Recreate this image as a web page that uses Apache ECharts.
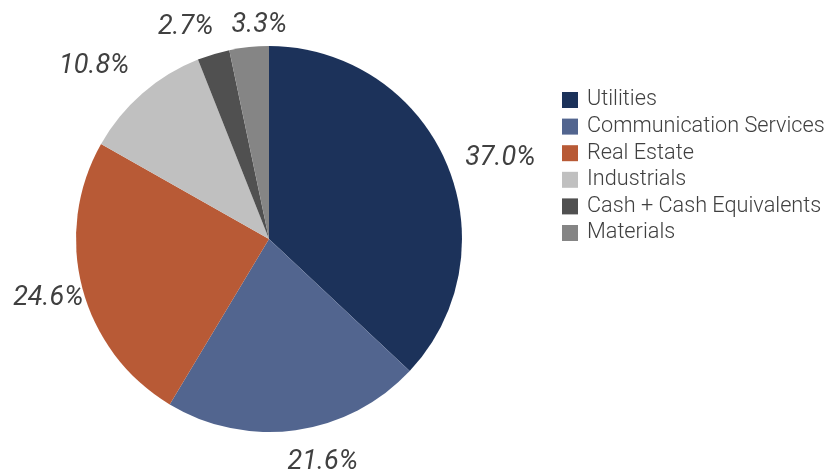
<!DOCTYPE html>
<html>
<head>
<meta charset="utf-8">
<script src="https://cdn.jsdelivr.net/npm/echarts@6/dist/echarts.min.js"></script>
<style>
  html, body { margin: 0; padding: 0; background: #fff; }
  #chart { width: 828px; height: 476px; }
</style>
</head>
<body>
<div id="chart"></div>
<script>
// sector weights, clockwise from 12 o'clock
var sectors = ['Utilities', 'Communication Services', 'Real Estate', 'Industrials', 'Cash + Cash Equivalents', 'Materials'];
var weights = [37.0, 21.6, 24.6, 10.8, 2.7, 3.3];
var colors = ['#1c325a', '#52658f', '#b85a36', '#c0c0c0', '#505050', '#858585'];
// nudges so the % labels sit where the original put them
var labelNudge = [[14, -4], [-13, 32], [6, 10], [-8, -27], [5, -27], [43, -22]];

var myChart = echarts.init(document.getElementById('chart'));

var pieData = sectors.map(function (name, i) {
  return { name: name, value: weights[i], itemStyle: { color: colors[i] } };
});

myChart.setOption({
  animation: false,
  legend: {
    orient: 'vertical',
    left: 557,
    top: 84,
    itemWidth: 16,
    itemHeight: 16,
    itemGap: 4.6,
    icon: 'rect',
    data: sectors,
    textStyle: {
      fontFamily: 'Roboto',
      fontWeight: 300,
      fontSize: 21.7,
      lineHeight: 21.7,
      padding: [0, 0, 0, 4],
      color: '#404040'
    }
  },
  series: [{
    type: 'pie',
    center: [269, 239],
    radius: 193,
    startAngle: 90,
    clockwise: true,
    avoidLabelOverlap: false,
    minShowLabelAngle: 0,
    data: pieData,
    label: {
      show: true,
      position: 'outside',
      alignTo: 'none',
      overflow: 'none',
      formatter: function (p) { return p.value.toFixed(1) + '%'; },
      fontFamily: 'Roboto',
      fontStyle: 'italic',
      fontSize: 27,
      color: '#404040'
    },
    labelLine: { show: false, length: 0, length2: 0 },
    labelLayout: function (params) {
      var n = labelNudge[params.dataIndex];
      return { dx: n[0], dy: n[1] };
    },
    emphasis: { disabled: true }
  }]
});
</script>
</body>
</html>
